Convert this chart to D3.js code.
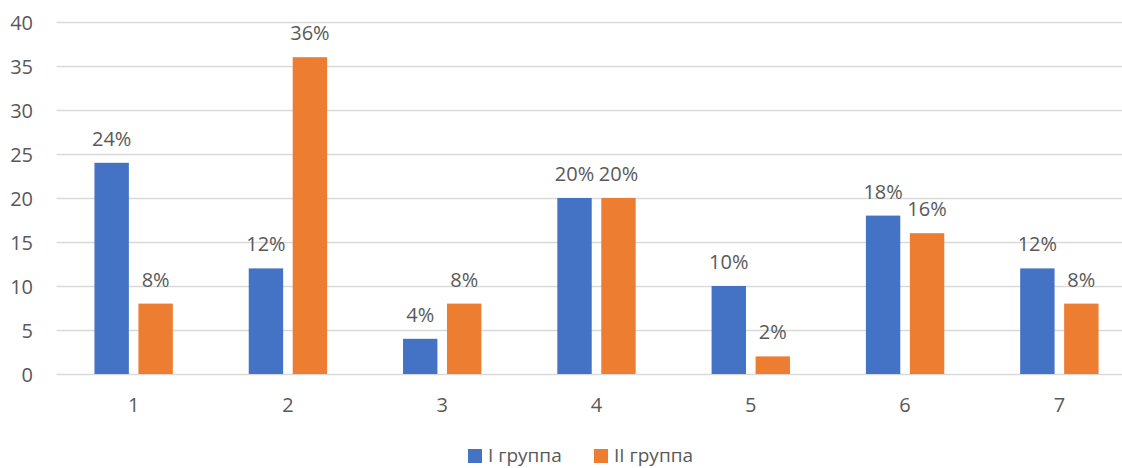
<!DOCTYPE html>
<html>
<head>
<meta charset="utf-8">
<script src="https://cdn.jsdelivr.net/npm/d3@7"></script>
<style>
  html, body { margin: 0; padding: 0; background: #fff; }
  svg { display: block; font-family: "Open Sans", "Noto Sans", sans-serif; }
</style>
</head>
<body>
<svg id="chart" width="1122" height="468"></svg>
<script>
// Chart data
const categories = ["1", "2", "3", "4", "5", "6", "7"];
const seriesNames = ["I группа", "II группа"];
const group1 = [24, 12, 4, 20, 10, 18, 12];
const group2 = [8, 36, 8, 20, 2, 16, 8];
const yTicks = [0, 5, 10, 15, 20, 25, 30, 35, 40];
const colors = ["#4472C4", "#ED7D31"];

const svg = d3.select("#chart");
const textColor = "#595959";
const gridColor = "#D9D9D9";

// Plot area (the last category band runs past the right edge)
const plotLeft = 56.5, plotRight = 1136.5, plotTop = 22, plotBottom = 374;

const x = d3.scaleBand().domain(categories).range([plotLeft, plotRight]).padding(0);
const y = d3.scaleLinear().domain([0, 40]).range([plotBottom, plotTop]);

const bw = x.bandwidth();
const barW = bw * 0.223;
const innerGap = bw * 0.062;
const outer = (bw - 2 * barW - innerGap) / 2;

// Horizontal gridlines
svg.append("g")
  .selectAll("line")
  .data(yTicks)
  .join("line")
  .attr("x1", plotLeft)
  .attr("x2", plotRight)
  .attr("y1", d => Math.round(y(d)) + 0.5)
  .attr("y2", d => Math.round(y(d)) + 0.5)
  .attr("stroke", gridColor)
  .attr("stroke-width", 1.4);

// Y axis labels
const yAxis = d3.axisLeft(y).tickValues(yTicks).tickSize(0).tickPadding(0);
const gy = svg.append("g").attr("transform", "translate(33,0)").call(yAxis);
gy.select(".domain").remove();
gy.selectAll("text")
  .attr("fill", textColor)
  .attr("font-size", 20)
  .attr("font-family", "Open Sans, sans-serif")
  .attr("dy", "0.35em");

// X axis labels
const xAxis = d3.axisBottom(x).tickSize(0).tickPadding(0);
const gx = svg.append("g").attr("transform", `translate(0,${plotBottom})`).call(xAxis);
gx.select(".domain").remove();
gx.selectAll("text")
  .attr("fill", textColor)
  .attr("font-size", 20)
  .attr("font-family", "Open Sans, sans-serif")
  .attr("y", 0)
  .attr("dy", 38);

// Bars and value labels
const series = [group1, group2];
series.forEach((vals, si) => {
  const xOff = outer + si * (barW + innerGap);
  const g = svg.append("g");
  g.selectAll("rect")
    .data(vals)
    .join("rect")
    .attr("x", (d, i) => x(categories[i]) + xOff)
    .attr("y", d => y(d))
    .attr("width", barW)
    .attr("height", d => y(0) - y(d))
    .attr("fill", colors[si]);
  g.selectAll("text")
    .data(vals)
    .join("text")
    .attr("x", (d, i) => x(categories[i]) + xOff + barW / 2)
    .attr("y", d => y(d) - 17)
    .attr("text-anchor", "middle")
    .attr("fill", textColor)
    .attr("font-size", 20)
    .text(d => d + "%");
});

// Legend
const legendItems = [
  { name: seriesNames[0], color: colors[0], x: 468 },
  { name: seriesNames[1], color: colors[1], x: 594 }
];
const lg = svg.append("g");
legendItems.forEach(it => {
  lg.append("rect")
    .attr("x", it.x).attr("y", 449)
    .attr("width", 14).attr("height", 14)
    .attr("fill", it.color);
  lg.append("text")
    .attr("x", it.x + 20).attr("y", 462)
    .attr("fill", textColor)
    .attr("font-size", 19)
    .text(it.name);
});
</script>
</body>
</html>
